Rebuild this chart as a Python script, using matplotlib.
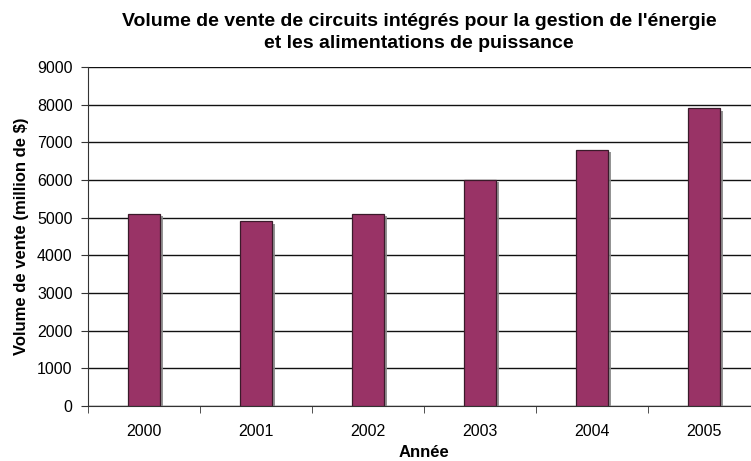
import matplotlib
matplotlib.use("Agg")
import matplotlib.pyplot as plt
import matplotlib.patheffects as pe
import numpy as np

plt.rcParams["font.family"] = ["Liberation Sans", "DejaVu Sans"]

years = ["2000", "2001", "2002", "2003", "2004", "2005"]
ventes = [5100, 4900, 5100, 6000, 6800, 7900]

fig = plt.figure(figsize=(7.51, 4.61), dpi=100)
ax = fig.add_axes([88 / 751, 55 / 461, 672 / 751, 339 / 461])

x = np.arange(len(years))
bars = ax.bar(x, ventes, width=0.29, color="#993366", edgecolor="#3a1a2a",
              linewidth=0.9, zorder=3)
for b in bars:
    b.set_path_effects([pe.SimplePatchShadow(offset=(2, -1.5), shadow_rgbFace="#888888", alpha=0.9),
                        pe.Normal()])

ax.set_xlim(-0.5, len(years) - 0.5)
ax.set_ylim(0, 9000)
ax.set_yticks(range(0, 9001, 1000))
ax.yaxis.grid(True, color="#111111", linewidth=1, zorder=0)
ax.set_axisbelow(True)

ax.set_xticks(x)
ax.set_xticklabels(years, fontsize=11.5)
ax.set_xticks(np.arange(-0.5, len(years)), minor=True)
ax.tick_params(axis="x", which="major", length=0, pad=13)
ax.tick_params(axis="x", which="minor", length=5, direction="out", color="#333333")
ax.tick_params(axis="y", length=5, direction="out", labelsize=11.5, color="#333333", pad=6)

for s in ["top", "right"]:
    ax.spines[s].set_visible(False)
for s in ["left", "bottom"]:
    ax.spines[s].set_color("#333333")

ax.set_xlabel("Année", fontsize=12, fontweight="bold", labelpad=4)
ax.set_ylabel("Volume de vente (million de $)", fontsize=12, fontweight="bold", labelpad=6)
fig.text(0.558, 0.972, "Volume de vente de circuits intégrés pour la gestion de l'énergie\net les alimentations de puissance",
         ha="center", va="top", fontsize=14, fontweight="bold", linespacing=1.4)

fig.savefig("out.png", dpi=100)
